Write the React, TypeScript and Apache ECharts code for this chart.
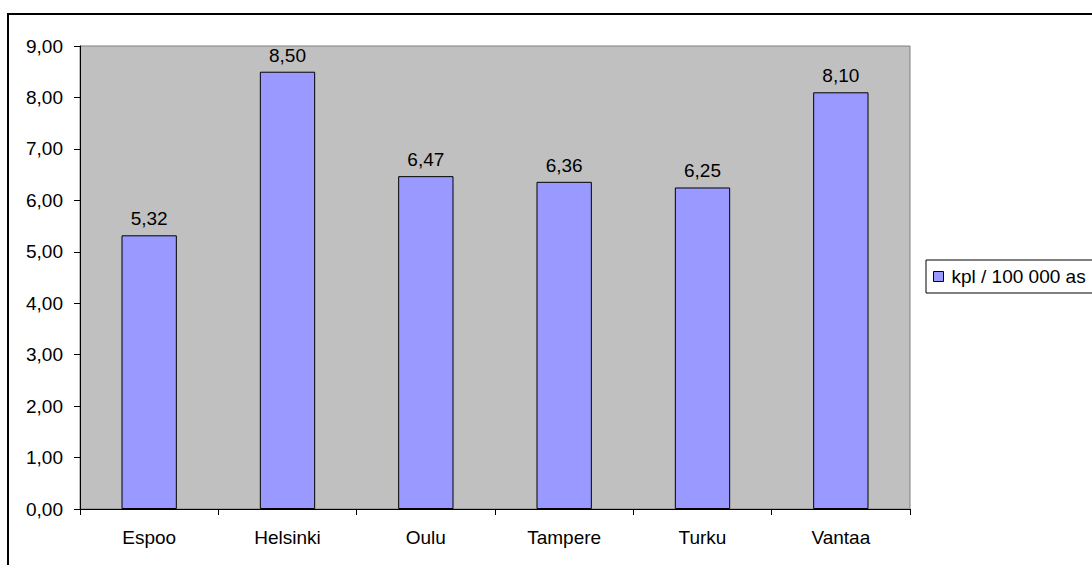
import React, { useEffect, useRef } from "react";
import * as echarts from "echarts";

const categories = ["Espoo", "Helsinki", "Oulu", "Tampere", "Turku", "Vantaa"];
const values = [5.32, 8.5, 6.47, 6.36, 6.25, 8.1];
const seriesName = "kpl / 100 000 as";
const yMin = 0;
const yMax = 9;
const yStep = 1;

const fmt = (v: number) => v.toFixed(2).replace(".", ",");
const FONT = "'Liberation Sans', Arial, sans-serif";
const FS = 19;

export default function App() {
  const ref = useRef<HTMLDivElement>(null);
  useEffect(() => {
    if (!ref.current) return;
    const chart = echarts.init(ref.current, undefined, { renderer: "svg" });
    chart.setOption({
      animation: false,
      backgroundColor: "#ffffff",
      textStyle: { fontFamily: FONT },
      graphic: [
        {
          type: "rect",
          shape: { x: 8, y: 14, width: 1300, height: 1000 },
          style: { fill: "none", stroke: "#000000", lineWidth: 2 },
          silent: true,
          z: 100,
        },
      ],
      grid: {
        left: 80,
        top: 46,
        right: 182,
        bottom: 56,
        show: true,
        backgroundColor: "#C0C0C0",
        borderColor: "#808080",
        borderWidth: 1,
        containLabel: false,
      },
      legend: {
        show: true,
        left: 926,
        top: 260,
        orient: "vertical",
        padding: [7, 40, 7, 7],
        borderColor: "#000000",
        borderWidth: 1,
        itemWidth: 10,
        itemHeight: 10,
        icon: "rect",
        itemStyle: { borderColor: "#000000", borderWidth: 1 },
        textStyle: {
          fontFamily: FONT,
          fontSize: FS,
          color: "#000000",
          padding: [0, 0, 0, 3],
        },
        data: [seriesName],
      },
      xAxis: {
        type: "category",
        data: categories,
        axisLine: { show: true, lineStyle: { color: "#000000", width: 1 } },
        axisTick: { show: true, length: 6, lineStyle: { color: "#000000" } },
        axisLabel: {
          fontFamily: FONT,
          fontSize: FS,
          color: "#000000",
          margin: 19,
        },
        splitLine: { show: false },
      },
      yAxis: {
        type: "value",
        min: yMin,
        max: yMax,
        interval: yStep,
        axisLine: { show: true, lineStyle: { color: "#000000", width: 1 } },
        axisTick: { show: true, length: 6, lineStyle: { color: "#000000" } },
        axisLabel: {
          fontFamily: FONT,
          fontSize: FS,
          color: "#000000",
          margin: 17,
          formatter: (v: number) => fmt(v),
        },
        splitLine: { show: false },
      },
      series: [
        {
          name: seriesName,
          type: "bar",
          data: values,
          barWidth: "40%",
          itemStyle: {
            color: "#9999FF",
            borderColor: "#000000",
            borderWidth: 1,
          },
          label: {
            show: true,
            position: "top",
            distance: 7,
            fontFamily: FONT,
            fontSize: FS,
            color: "#000000",
            formatter: (p: any) => fmt(p.value),
          },
        },
      ],
    });
    return () => chart.dispose();
  }, []);
  return (
    <div
      ref={ref}
      style={{ position: "absolute", left: 0, top: 0, width: 1092, height: 565 }}
    />
  );
}
